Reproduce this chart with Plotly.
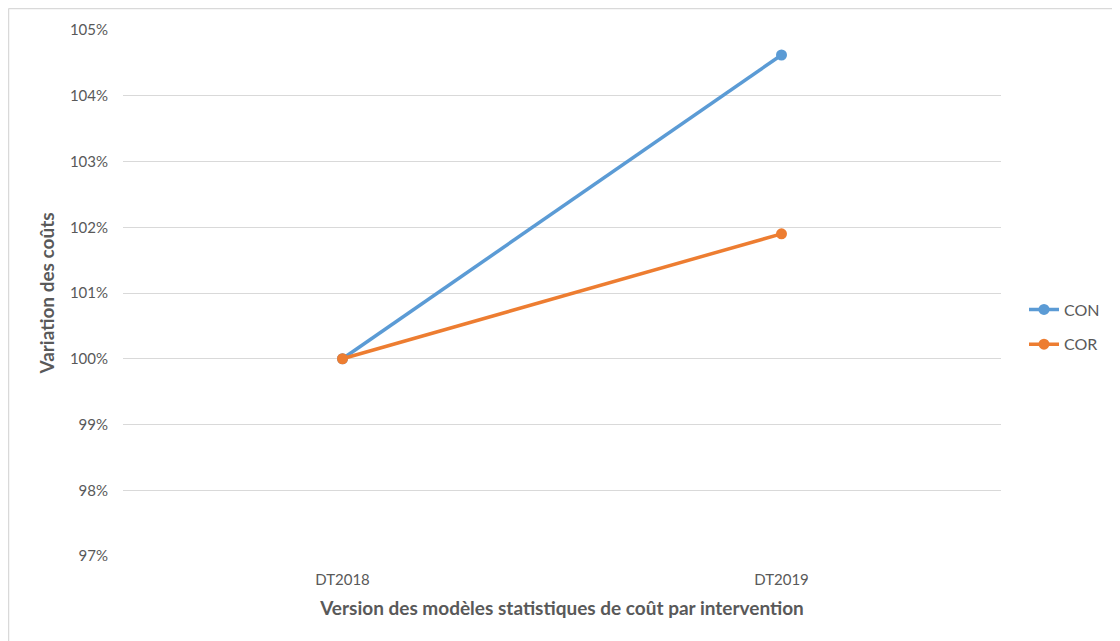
import plotly.graph_objects as go

categories = ["DT2018", "DT2019"]
con_values = [1.000, 1.0462]
cor_values = [1.000, 1.0190]
y_ticks = [0.97, 0.98, 0.99, 1.00, 1.01, 1.02, 1.03, 1.04, 1.05]

W, H = 1112, 633
L, T = 115, 22
pw, ph = 878, 526
R, B = W - L - pw, H - T - ph

font = "Lato, 'Open Sans', sans-serif"
grey = "#595959"

fig = go.Figure()
fig.add_trace(go.Scatter(x=categories, y=con_values, name="CON", mode="lines+markers",
                         legendgroup="a",
                         line=dict(color="#5B9BD5", width=3.5),
                         marker=dict(size=11, color="#5B9BD5")))
fig.add_trace(go.Scatter(x=categories, y=cor_values, name="COR", mode="lines+markers",
                         legendgroup="b",
                         line=dict(color="#ED7D31", width=3.5),
                         marker=dict(size=11, color="#ED7D31")))

bx = (0.5 - L) / pw
by = 1 + (T - 0.5) / ph
fig.add_shape(type="line", xref="paper", yref="paper", x0=bx, x1=bx, y0=by, y1=-0.5,
              line=dict(color="#D9D9D9", width=1.5))
fig.add_shape(type="line", xref="paper", yref="paper", x0=bx, x1=1.5, y0=by, y1=by,
              line=dict(color="#D9D9D9", width=1.5))

fig.update_layout(
    width=W, height=H,
    margin=dict(l=L, r=R, t=T, b=B),
    paper_bgcolor="white", plot_bgcolor="white",
    font=dict(family=font, color=grey, size=15),
    showlegend=True,
    legend=dict(x=(1016 - L) / pw, y=1 - (319 - T) / ph, xanchor="left", yanchor="middle",
                font=dict(size=16, color=grey), traceorder="grouped", tracegroupgap=11),
    xaxis=dict(type="category", range=[-0.5, 1.5], showgrid=False, zeroline=False,
               showline=False, ticks="", tickfont=dict(size=15, color=grey),
               ticklabelstandoff=13,
               title=dict(text="<b>Version des modèles statistiques de coût par intervention</b>",
                          font=dict(size=19, color=grey), standoff=14)),
    yaxis=dict(range=[0.97, 1.05], tickvals=y_ticks, tickformat=".0%",
               showgrid=True, gridcolor="#D9D9D9", gridwidth=1, zeroline=False,
               showline=False, ticks="", tickfont=dict(size=15, color=grey),
               ticklabelstandoff=14,
               title=dict(text="<b>Variation des coûts</b>",
                          font=dict(size=19, color=grey), standoff=10)),
)

fig.write_html("out.html")
